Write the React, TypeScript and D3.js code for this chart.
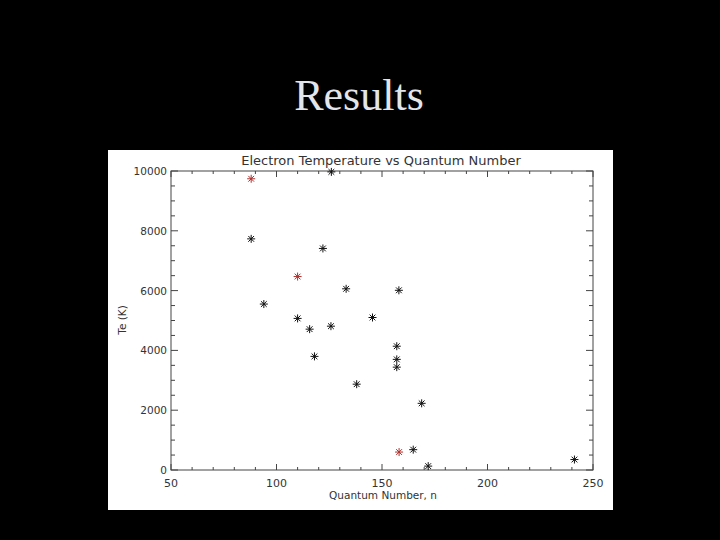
import React, { useEffect, useRef } from "react";
import * as d3 from "d3";

// quantum number n, electron temperature Te (K)
const blackN = [88, 122, 126, 94, 133, 110, 115.7, 125.8, 118, 138, 145.5, 158, 157, 157, 157, 168.8, 164.8, 171.9, 241.2];
const blackTe = [7730, 7410, 9970, 5550, 6060, 5070, 4710, 4810, 3800, 2870, 5100, 6010, 4140, 3700, 3440, 2230, 680, 130, 350];
const redN = [88, 110, 158.1];
const redTe = [9740, 6470, 600];

const xTicks = [50, 100, 150, 200, 250];
const yTicks = [0, 2000, 4000, 6000, 8000, 10000];

const W = 720;
const H = 540;
const PANEL = { x: 108, y: 150, w: 505, h: 360 };
const PLOT = { left: 171, right: 593, top: 171, bottom: 470 };
const AXIS_FONT = "'DejaVu Sans', 'Liberation Sans', sans-serif";

export default function App() {
  const svgRef = useRef<SVGSVGElement>(null);

  useEffect(() => {
    const svg = d3.select(svgRef.current);
    svg.selectAll("*").remove();

    svg.append("rect").attr("width", W).attr("height", H).attr("fill", "#000");

    svg
      .append("text")
      .attr("x", 359)
      .attr("y", 110)
      .attr("text-anchor", "middle")
      .attr("font-family", "'Liberation Serif', 'Times New Roman', serif")
      .attr("font-size", 44)
      .attr("fill", "#e2e6ec")
      .text("Results");

    svg
      .append("rect")
      .attr("x", PANEL.x)
      .attr("y", PANEL.y)
      .attr("width", PANEL.w)
      .attr("height", PANEL.h)
      .attr("fill", "#fff");

    const x = d3.scaleLinear().domain([50, 250]).range([PLOT.left, PLOT.right]);
    const y = d3.scaleLinear().domain([0, 10000]).range([PLOT.bottom, PLOT.top]);

    const g = svg.append("g");
    const axisColor = "#444";
    const textColor = "#333";

    // frame
    g.append("rect")
      .attr("x", PLOT.left)
      .attr("y", PLOT.top)
      .attr("width", PLOT.right - PLOT.left)
      .attr("height", PLOT.bottom - PLOT.top)
      .attr("fill", "none")
      .attr("stroke", axisColor)
      .attr("stroke-width", 1);

    // inward ticks on all four sides
    const xMinor = d3.range(50, 251, 10);
    const yMinor = d3.range(0, 10001, 500);
    xMinor.forEach((v) => {
      const len = v % 50 === 0 ? 6 : 3;
      g.append("line").attr("x1", x(v)).attr("x2", x(v)).attr("y1", PLOT.bottom).attr("y2", PLOT.bottom - len).attr("stroke", axisColor);
      g.append("line").attr("x1", x(v)).attr("x2", x(v)).attr("y1", PLOT.top).attr("y2", PLOT.top + len).attr("stroke", axisColor);
    });
    yMinor.forEach((v) => {
      const len = v % 2000 === 0 ? 7 : 4;
      g.append("line").attr("x1", PLOT.left).attr("x2", PLOT.left + len).attr("y1", y(v)).attr("y2", y(v)).attr("stroke", axisColor);
      g.append("line").attr("x1", PLOT.right).attr("x2", PLOT.right - len).attr("y1", y(v)).attr("y2", y(v)).attr("stroke", axisColor);
    });

    g.selectAll(".xl")
      .data(xTicks)
      .enter()
      .append("text")
      .attr("x", (d) => x(d))
      .attr("y", PLOT.bottom + 17)
      .attr("text-anchor", "middle")
      .attr("font-family", AXIS_FONT)
      .attr("font-size", 11)
      .attr("fill", textColor)
      .text((d) => String(d));

    g.selectAll(".yl")
      .data(yTicks)
      .enter()
      .append("text")
      .attr("x", PLOT.left - 4)
      .attr("y", (d) => y(d) + 4)
      .attr("text-anchor", "end")
      .attr("font-family", AXIS_FONT)
      .attr("font-size", 10.5)
      .attr("fill", textColor)
      .text((d) => String(d));

    g.append("text")
      .attr("x", 381)
      .attr("y", 165)
      .attr("text-anchor", "middle")
      .attr("font-family", AXIS_FONT)
      .attr("font-size", 13)
      .attr("fill", textColor)
      .text("Electron Temperature vs Quantum Number");

    g.append("text")
      .attr("x", 383)
      .attr("y", 499)
      .attr("text-anchor", "middle")
      .attr("font-family", AXIS_FONT)
      .attr("font-size", 10.5)
      .attr("fill", textColor)
      .text("Quantum Number, n");

    g.append("text")
      .attr("transform", "translate(126,320) rotate(-90)")
      .attr("text-anchor", "middle")
      .attr("font-family", AXIS_FONT)
      .attr("font-size", 10.5)
      .attr("fill", textColor)
      .text("Te (K)");

    // IDL-style asterisks
    const star = (cx: number, cy: number, color: string) => {
      const r = 4;
      const d = r * 0.72;
      const path = `M${cx - r},${cy}H${cx + r}M${cx},${cy - r}V${cy + r}M${cx - d},${cy - d}L${cx + d},${cy + d}M${cx - d},${cy + d}L${cx + d},${cy - d}`;
      g.append("path").attr("d", path).attr("stroke", color).attr("stroke-width", 1).attr("fill", "none");
    };
    blackN.forEach((n, i) => star(x(n), y(blackTe[i]), "#111"));
    redN.forEach((n, i) => star(x(n), y(redTe[i]), "#b0302c"));
  }, []);

  return (
    <svg
      ref={svgRef}
      width={W}
      height={H}
      style={{ position: "absolute", left: 0, top: 0, display: "block" }}
    />
  );
}
